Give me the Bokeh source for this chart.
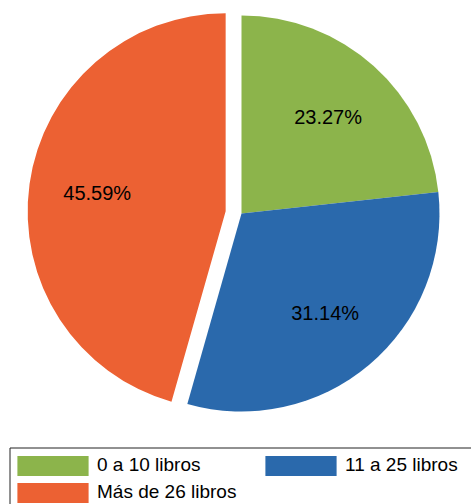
import numpy as np
from bokeh.plotting import figure
from bokeh.models import ColumnDataSource, Range1d, Legend, LegendItem
from bokeh.core.properties import value
from bokeh.embed import file_html
from bokeh.resources import INLINE

categories = ["0 a 10 libros", "11 a 25 libros", "Más de 26 libros"]
percents = [23.27, 31.14, 45.59]
colors = ["#8CB44B", "#2A69AC", "#EC6133"]
explode = [0, 0, 16]

W, H = 471, 504
cx, cy = 241, H - 213
R = 198

frac = np.array(percents) / sum(percents)
cum = np.concatenate([[0], np.cumsum(frac)])
start = np.pi / 2 - 2 * np.pi * cum[:-1]
end = np.pi / 2 - 2 * np.pi * cum[1:]
mid = (start + end) / 2
xs = cx + np.array(explode) * np.cos(mid)
ys = cy + np.array(explode) * np.sin(mid)
lx = xs + 0.655 * R * np.cos(mid)
ly = ys + 0.655 * R * np.sin(mid)
labels = [f"{v:.2f}%" for v in percents]

src = ColumnDataSource(dict(x=xs, y=ys, start=start, end=end, color=colors,
                            cat=categories, lx=lx, ly=ly, lab=labels))

p = figure(width=W, height=H, output_backend="svg", toolbar_location=None,
           x_range=Range1d(0, W), y_range=Range1d(0, H),
           min_border=0, x_axis_location=None, y_axis_location=None,
           outline_line_color=None)
p.grid.visible = False

r = p.wedge(x="x", y="y", radius=R, start_angle="start", end_angle="end",
            direction="clock", fill_color="color", line_color=None, source=src)

p.text(x="lx", y="ly", text="lab", source=src, text_align="center",
       text_baseline="middle", text_font=value("Liberation Sans"),
       text_font_size="20px", text_color="black")

# legend frame (cut off by the page edge, as in the original)
p.quad(left=[9.5], right=[520], bottom=[-20], top=[H - 447.5],
       fill_color=None, line_color="#222222", line_width=1)

items = [LegendItem(label=categories[i], renderers=[r], index=i) for i in range(3)]
legend = Legend(items=items, location=(8, -0.5), ncols=2, orientation="horizontal",
                border_line_color=None, background_fill_alpha=0,
                padding=0, spacing=2, glyph_width=89, glyph_height=25,
                label_standoff=0, label_width=157, label_height=20,
                label_text_font="Liberation Sans", label_text_font_size="19px",
                label_text_color="black", margin=0)
p.add_layout(legend)

open("out.html", "w").write(file_html(p, INLINE))
